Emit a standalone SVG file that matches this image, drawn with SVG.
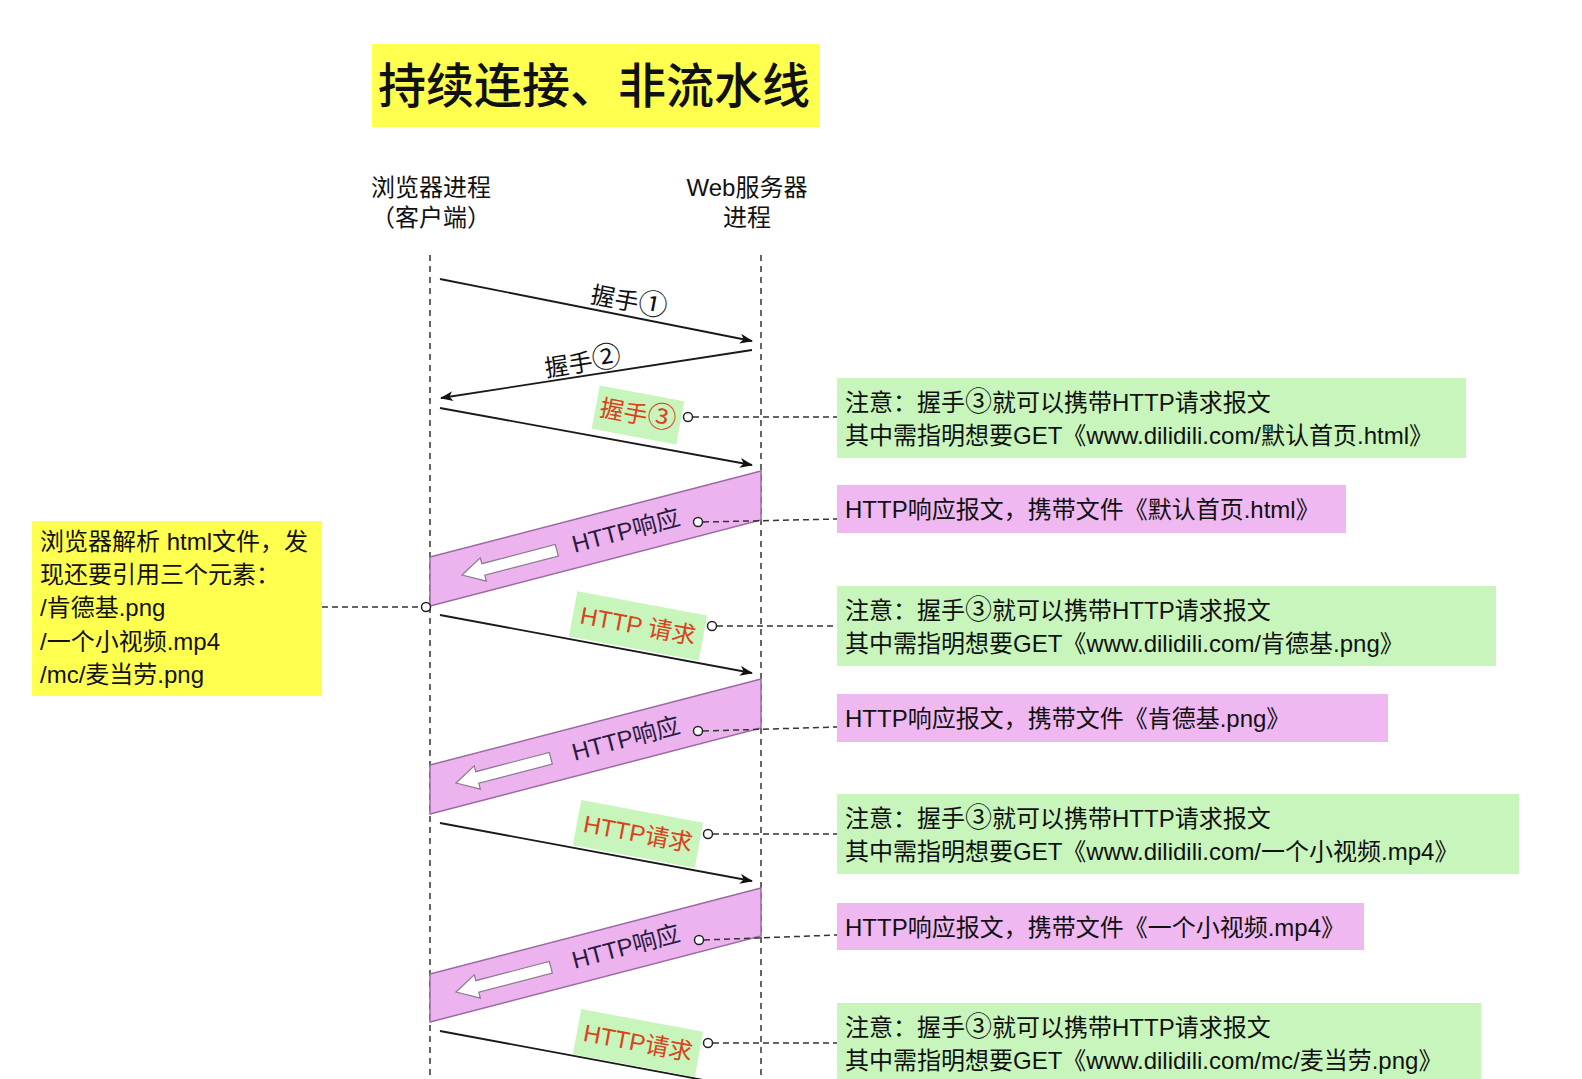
<svg xmlns="http://www.w3.org/2000/svg" width="1582" height="1079" viewBox="0 0 1582 1079">
<defs>
<style>
text{font-family:"Liberation Sans","Noto Sans CJK SC",sans-serif;fill:#111;}
.t24{font-size:24px;}
.mid{text-anchor:middle;}
.red{fill:#d8431c;}
.dk{fill:#2b1b3e;}
.circ{font-family:"Noto Sans CJK SC",sans-serif;font-size:29px;}
.circs{font-family:"Noto Sans CJK SC",sans-serif;font-size:27px;}
.life{stroke:#333;stroke-width:1.5;stroke-dasharray:6 5;fill:none;}
.dash{stroke:#333;stroke-width:1.5;stroke-dasharray:6 4;fill:none;}
.msg{stroke:#1a1a1a;stroke-width:1.8;fill:none;}
.dot{fill:#fff;stroke:#222;stroke-width:1.5;}
.green{fill:#c8f5bb;}
.pink{fill:#efb8f1;}
.yellow{fill:#ffff50;}
.band{fill:#ecb3ef;stroke:#9a6ba0;stroke-width:1.5;}
.harrow{fill:#fff;stroke:#8a7a8e;stroke-width:1.2;}
</style>
<marker id="arr" viewBox="0 0 13 10" refX="12" refY="5" markerWidth="13" markerHeight="10" markerUnits="userSpaceOnUse" orient="auto">
<path d="M0,0 L13,5 L0,10 L3.5,5 Z" fill="#111"/>
</marker>
<path id="hollow" d="M0,0 L22,-12 L22,-6 L98,-6 L98,6 L22,6 L22,12 Z"/>
</defs>
<rect width="1582" height="1079" fill="#fff"/>

<g id="title">
<rect class="yellow" x="372" y="44" width="448" height="83"/>
<text x="594" y="103" class="mid" style="font-size:48px;font-family:'Noto Sans CJK SC',sans-serif;font-weight:500">持续连接、非流水线</text>
</g>

<g id="client">
<text class="t24 mid" x="431" y="196">浏览器进程</text>
<text class="t24 mid" x="431" y="226">（客户端）</text>
</g>
<g id="server">
<text class="t24 mid" x="747" y="196">Web服务器</text>
<text class="t24 mid" x="747" y="226">进程</text>
</g>

<g id="lifelines">
<line class="life" x1="430" y1="255" x2="430" y2="1079"/>
<line class="life" x1="761" y1="255" x2="761" y2="1079"/>
</g>

<g id="bands">
<g id="resp1">
<polygon class="band" points="430,557 761,471 761,520 430,606"/>
<use href="#hollow" class="harrow" transform="translate(462,575) rotate(-14.6)"/>
<text class="t24 mid dk" transform="translate(626,531) rotate(-14.6)" y="8">HTTP响应</text>
</g>
<g id="resp2">
<polygon class="band" points="430,765 761,679 761,728 430,814"/>
<use href="#hollow" class="harrow" transform="translate(456,783) rotate(-14.6)"/>
<text class="t24 mid dk" transform="translate(626,739) rotate(-14.6)" y="8">HTTP响应</text>
</g>
<g id="resp3">
<polygon class="band" points="430,974 761,888 761,936 430,1022"/>
<use href="#hollow" class="harrow" transform="translate(456,992) rotate(-14.6)"/>
<text class="t24 mid dk" transform="translate(626,947) rotate(-14.6)" y="8">HTTP响应</text>
</g>
</g>

<g id="connectors">
<line class="msg" x1="440" y1="279" x2="752" y2="341" marker-end="url(#arr)"/>
<line class="msg" x1="752" y1="350" x2="441" y2="398" marker-end="url(#arr)"/>
<line class="msg" x1="440" y1="408" x2="752" y2="465" marker-end="url(#arr)"/>
<line class="msg" x1="440" y1="615" x2="752" y2="673" marker-end="url(#arr)"/>
<line class="msg" x1="440" y1="823" x2="752" y2="881" marker-end="url(#arr)"/>
<line class="msg" x1="440" y1="1031" x2="752" y2="1089" marker-end="url(#arr)"/>
<line class="dash" x1="693" y1="417" x2="837" y2="417"/>
<line class="dash" x1="703" y1="522" x2="837" y2="519"/>
<line class="dash" x1="717" y1="626" x2="837" y2="626"/>
<line class="dash" x1="703" y1="731" x2="837" y2="727"/>
<line class="dash" x1="713" y1="834" x2="837" y2="834"/>
<line class="dash" x1="704" y1="940" x2="837" y2="935"/>
<line class="dash" x1="713" y1="1043" x2="837" y2="1043"/>
<line class="dash" x1="322" y1="607" x2="421" y2="607"/>
</g>

<g id="labels">
<text class="t24 mid" transform="translate(629,302) rotate(11)" y="8">握手<tspan class="circ">①</tspan></text>
<text class="t24 mid" transform="translate(583,363) rotate(-9)" y="8">握手<tspan class="circ">②</tspan></text>
<g id="hs3label" transform="translate(638,415) rotate(10.5)">
<rect class="green" x="-43" y="-22" width="86" height="44"/>
<text class="t24 mid red" y="8">握手<tspan class="circ">③</tspan></text>
</g>
<g id="req1label" transform="translate(638,626) rotate(10.5)">
<rect class="green" x="-66" y="-23" width="132" height="46"/>
<text class="t24 mid red" y="8">HTTP 请求</text>
</g>
<g id="req2label" transform="translate(638,834) rotate(10.5)">
<rect class="green" x="-62" y="-23" width="124" height="46"/>
<text class="t24 mid red" y="8">HTTP请求</text>
</g>
<g id="req3label" transform="translate(638,1043) rotate(10.5)">
<rect class="green" x="-62" y="-23" width="124" height="46"/>
<text class="t24 mid red" y="8">HTTP请求</text>
</g>
</g>

<g id="dots">
<circle class="dot" cx="688" cy="417" r="4.5"/>
<circle class="dot" cx="698" cy="522" r="4.5"/>
<circle class="dot" cx="712" cy="626" r="4.5"/>
<circle class="dot" cx="698" cy="731" r="4.5"/>
<circle class="dot" cx="708" cy="834" r="4.5"/>
<circle class="dot" cx="699" cy="940" r="4.5"/>
<circle class="dot" cx="708" cy="1043" r="4.5"/>
<circle class="dot" cx="426" cy="607" r="4.5"/>
</g>

<g id="parseNote">
<rect class="yellow" x="32" y="521" width="290" height="175"/>
<text class="t24" x="40" y="550">浏览器解析 html文件，发</text>
<text class="t24" x="40" y="583">现还要引用三个元素：</text>
<text class="t24" x="40" y="616">/肯德基.png</text>
<text class="t24" x="40" y="650">/一个小视频.mp4</text>
<text class="t24" x="40" y="683">/mc/麦当劳.png</text>
</g>

<g id="note1">
<rect class="green" x="837" y="378" width="629" height="80"/>
<text class="t24" x="845" y="411">注意：握手<tspan class="circs">③</tspan>就可以携带HTTP请求报文</text>
<text class="t24" x="845" y="444">其中需指明想要GET《www.dilidili.com/默认首页.html》</text>
</g>
<g id="resp1note">
<rect class="pink" x="837" y="485" width="509" height="48"/>
<text class="t24" x="845" y="518">HTTP响应报文，携带文件《默认首页.html》</text>
</g>
<g id="note2">
<rect class="green" x="837" y="586" width="659" height="80"/>
<text class="t24" x="845" y="619">注意：握手<tspan class="circs">③</tspan>就可以携带HTTP请求报文</text>
<text class="t24" x="845" y="652">其中需指明想要GET《www.dilidili.com/肯德基.png》</text>
</g>
<g id="resp2note">
<rect class="pink" x="837" y="694" width="551" height="48"/>
<text class="t24" x="845" y="727">HTTP响应报文，携带文件《肯德基.png》</text>
</g>
<g id="note3">
<rect class="green" x="837" y="794" width="682" height="80"/>
<text class="t24" x="845" y="827">注意：握手<tspan class="circs">③</tspan>就可以携带HTTP请求报文</text>
<text class="t24" x="845" y="860">其中需指明想要GET《www.dilidili.com/一个小视频.mp4》</text>
</g>
<g id="resp3note">
<rect class="pink" x="837" y="903" width="527" height="47"/>
<text class="t24" x="845" y="936">HTTP响应报文，携带文件《一个小视频.mp4》</text>
</g>
<g id="note4">
<rect class="green" x="837" y="1003" width="644" height="80"/>
<text class="t24" x="845" y="1036">注意：握手<tspan class="circs">③</tspan>就可以携带HTTP请求报文</text>
<text class="t24" x="845" y="1069">其中需指明想要GET《www.dilidili.com/mc/麦当劳.png》</text>
</g>
</svg>
